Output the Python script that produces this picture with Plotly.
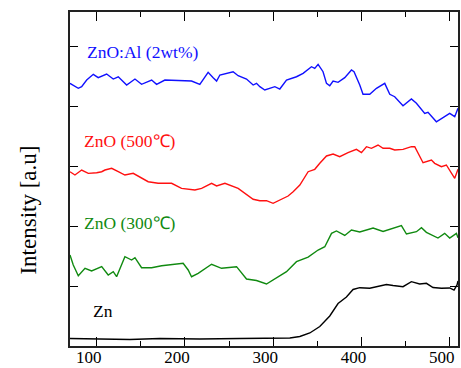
import plotly.graph_objects as go

# Wavelength (nm) and intensity (a.u., offset) for each sample
zn_x = [69.8, 103.7, 137.7, 171.7, 216.9, 262.2, 296.2, 318.9, 330.2, 341.5, 352.8, 364.1, 373.5,
        383.0, 390.5, 398.1, 409.4, 417.0, 428.3, 435.8, 447.1, 456.6, 466.0, 473.6, 481.1, 490.6,
        500.0, 504.9, 508.3, 509.4]
zn_y = [0.125, 0.117, 0.108, 0.125, 0.117, 0.125, 0.125, 0.133, 0.158, 0.217, 0.325, 0.5, 0.708,
        0.817, 0.942, 0.972, 0.962, 0.983, 1.025, 1.008, 0.988, 1.072, 1.033, 1.045, 0.975, 0.962,
        0.967, 0.933, 1.017, 1.083]

zno300_x = [69.8, 73.5, 79.2, 86.8, 94.3, 105.7, 113.1, 118.8, 122.6, 126.4, 132.0, 139.6, 143.4,
            150.9, 162.3, 173.6, 184.9, 198.0, 203.7, 207.5, 215.0, 230.2, 241.5, 258.5, 269.8,
            281.1, 292.4, 305.6, 315.1, 326.4, 339.6, 350.9, 358.5, 366.1, 371.7, 381.1, 388.7,
            398.1, 413.2, 424.5, 435.8, 445.3, 451.0, 462.3, 468.0, 473.6, 486.7, 494.3, 500.0,
            507.6, 509.4]
zno300_y = [1.517, 1.35, 1.172, 1.295, 1.25, 1.322, 1.183, 1.238, 1.155, 1.295, 1.488, 1.433, 1.472,
            1.305, 1.305, 1.338, 1.362, 1.378, 1.267, 1.155, 1.212, 1.362, 1.295, 1.322, 1.117,
            1.092, 1.033, 1.158, 1.238, 1.405, 1.483, 1.6, 1.655, 1.878, 1.917, 1.842, 1.933,
            1.9, 1.967, 1.908, 1.962, 2.008, 1.867, 1.905, 1.972, 1.895, 1.8, 1.878, 1.8,
            1.878, 1.805]

zno500_x = [69.8, 75.4, 83.0, 90.5, 100.0, 105.7, 109.4, 117.0, 124.5, 132.0, 141.4, 147.1, 158.4,
            169.7, 184.9, 196.2, 211.3, 218.9, 230.2, 235.9, 245.3, 260.3, 267.9, 277.3, 284.9,
            292.4, 299.9, 311.3, 316.9, 322.6, 330.2, 339.6, 347.1, 352.8, 360.4, 367.9, 375.4,
            384.8, 394.3, 400.0, 405.7, 411.3, 418.8, 424.5, 432.1, 437.7, 447.1, 456.6, 460.4,
            469.8, 479.3, 483.0, 490.6, 496.2, 501.9, 505.7, 509.4]
zno500_y = [2.905, 2.85, 2.933, 2.878, 2.888, 2.905, 2.933, 2.962, 2.905, 2.85, 2.878, 2.833, 2.738,
            2.712, 2.712, 2.628, 2.6, 2.628, 2.712, 2.667, 2.712, 2.628, 2.545, 2.445, 2.422,
            2.422, 2.378, 2.462, 2.5, 2.572, 2.683, 2.905, 2.945, 3.045, 3.167, 3.2, 3.155,
            3.222, 3.278, 3.222, 3.322, 3.295, 3.35, 3.295, 3.295, 3.267, 3.278, 3.322, 3.322,
            3.055, 3.1, 3.045, 2.988, 3.017, 2.888, 2.795, 2.945]

znoal_x = [69.8, 79.2, 83.0, 88.7, 96.2, 101.8, 111.3, 118.8, 124.5, 134.0, 143.4, 150.9, 162.3,
           167.9, 177.3, 196.2, 207.5, 216.9, 226.3, 232.0, 235.9, 239.6, 247.2, 254.6, 260.3,
           269.8, 277.3, 281.1, 284.9, 290.5, 301.9, 307.5, 315.1, 326.4, 333.9, 343.4, 347.1,
           350.9, 356.5, 360.4, 364.1, 367.9, 373.5, 381.1, 388.7, 391.6, 398.1, 401.8, 409.4,
           417.0, 426.4, 432.1, 437.7, 447.1, 456.6, 462.3, 471.7, 475.4, 484.9, 494.3, 500.0,
           505.7, 509.4]
znoal_y = [4.378, 4.295, 4.322, 4.433, 4.528, 4.472, 4.533, 4.45, 4.488, 4.35, 4.45, 4.362, 4.433,
           4.362, 4.433, 4.417, 4.417, 4.362, 4.562, 4.472, 4.417, 4.517, 4.545, 4.572, 4.505,
           4.45, 4.35, 4.378, 4.322, 4.267, 4.322, 4.283, 4.433, 4.488, 4.545, 4.655, 4.628,
           4.695, 4.572, 4.378, 4.338, 4.417, 4.395, 4.472, 4.6, 4.572, 4.35, 4.195, 4.195,
           4.295, 4.378, 4.195, 4.155, 4.005, 4.117, 4.045, 3.878, 3.895, 3.738, 3.822, 3.878,
           3.822, 3.962]

labels = ["ZnO:Al (2wt%)", "ZnO (500\u2103)", "ZnO (300\u2103)", "Zn"]
colors = ["#1010ff", "#ff1010", "#108a10", "#000000"]
xtick_vals = [100, 200, 300, 400, 500]

FONT = "Liberation Serif"

fig = go.Figure()
series = [(znoal_x, znoal_y), (zno500_x, zno500_y), (zno300_x, zno300_y), (zn_x, zn_y)]
for (xs, ys), name, c in zip(series, labels, colors):
    fig.add_trace(go.Scatter(x=xs, y=ys, mode="lines", name=name,
                             line=dict(color=c, width=1.4), showlegend=False))

label_pos = [(0.039, 0.880), (0.031, 0.614), (0.031, 0.368), (0.054, 0.105)]
for name, c, (px, py) in zip(labels, colors, label_pos):
    fig.add_annotation(text=name, xref="paper", yref="paper", x=px, y=py,
                       xanchor="left", yanchor="middle", showarrow=False,
                       font=dict(family=FONT, size=17.5, color=c))

fig.add_annotation(text="Intensity [a.u]", xref="paper", yref="paper",
                   x=-0.107, y=0.407, textangle=-90, showarrow=False,
                   xanchor="center", yanchor="middle",
                   font=dict(family=FONT, size=23, color="#000000"))

fig.update_xaxes(range=[69.8, 509.4], tickvals=xtick_vals, ticks="inside", ticklen=9,
                 tickwidth=1.2, tickcolor="#000", showline=True, linecolor="#222",
                 linewidth=2, mirror="allticks", showgrid=False, zeroline=False,
                 minor=dict(dtick=50, ticks="inside", ticklen=5, tickwidth=1.2, tickcolor="#000"),
                 ticklabeloverflow="allow", ticklabelshift=-8, ticklabelstandoff=-5,
                 tickfont=dict(family=FONT, size=17, color="#000"))
fig.update_yaxes(range=[0, 5.567], dtick=1, tick0=0, ticks="inside", ticklen=8,
                 tickwidth=1.2, tickcolor="#000", showline=True, linecolor="#222",
                 linewidth=2, mirror="allticks", showgrid=False, zeroline=False,
                 showticklabels=False)

fig.update_layout(width=461, height=368, margin=dict(l=70, r=3, t=12, b=22, autoexpand=False),
                  plot_bgcolor="white", paper_bgcolor="white",
                  font=dict(family=FONT))

fig.write_html("out.html", config={"displayModeBar": False},
               post_script="document.body.style.margin='0';document.body.style.overflow='hidden';")
